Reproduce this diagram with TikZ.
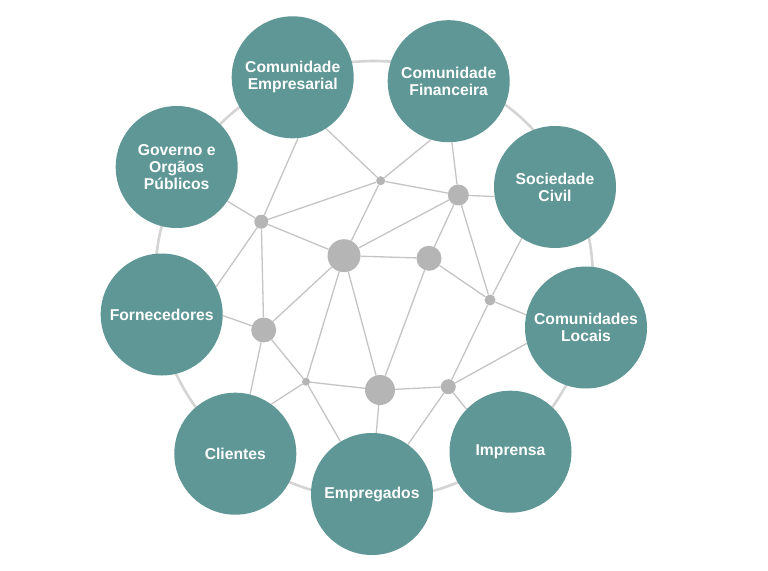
\documentclass[tikz,border=0pt]{standalone}
\usepackage{fontspec}
\setmainfont{Liberation Sans}
\pgfdeclarelayer{bg}
\pgfsetlayers{bg,main}
\definecolor{tealfill}{HTML}{5E9795}
\definecolor{hubgray}{HTML}{B5B5B5}
\definecolor{linegray}{HTML}{C4C4C4}
\definecolor{ringgray}{HTML}{D4D4D4}
\begin{document}
\begin{tikzpicture}[x=1pt,y=-1pt,
  big/.style={circle,fill=tealfill,text=white,minimum size=122pt,inner sep=0pt,align=center,
    font=\fontsize{15.7}{17}\selectfont\bfseries},
  hub/.style={circle,fill=hubgray,inner sep=0pt,minimum size=#1},
  link/.style={draw=linegray,line width=1.3pt},
  outerring/.style={draw=ringgray,line width=2.6pt}]
\useasboundingbox (0,0) rectangle (768,570);
% stakeholders
\node[big] (emp) at (292.7,77.3) {Comunidade\\Empresarial};
\node[big] (fin) at (448.7,81.2) {Comunidade\\Financeira};
\node[big] (soc) at (555,187) {Sociedade\\Civil};
\node[big] (loc) at (586,327.5) {Comunidades\\Locais};
\node[big] (imp) at (510.5,451.7) {Imprensa};
\node[big] (emg) at (372,494) {Empregados};
\node[big] (cli) at (235.3,453.7) {Clientes};
\node[big] (frn) at (161.7,314.5) {Fornecedores};
\node[big] (gov) at (176.7,167) {Governo e\\Orgãos\\Públicos};
% hubs
\node[hub=9pt]  (a) at (380.7,180.7) {};
\node[hub=21pt] (b) at (458.3,195) {};
\node[hub=14pt] (c) at (261.3,221.7) {};
\node[hub=33pt] (d) at (344,255.7) {};
\node[hub=25pt] (e) at (429,258.3) {};
\node[hub=11pt] (f) at (490,300) {};
\node[hub=25pt] (g) at (263.7,330) {};
\node[hub=8pt]  (h) at (306,381.7) {};
\node[hub=30pt] (i) at (380,390) {};
\node[hub=15pt] (j) at (448.3,386.7) {};
\coordinate (ringc) at (374,280);
\begin{pgfonlayer}{bg}
\draw[outerring] (ringc) circle[radius=219pt];
\draw[link] (a) -- (c);
\draw[link] (a) -- (b);
\draw[link] (a) -- (d);
\draw[link] (a) -- (emp.-57);
\draw[link] (a) -- (fin.-107);
\draw[link] (c) -- (emp.-85);
\draw[link] (c) -- (gov.-34);
\draw[link] (c) -- (d);
\draw[link] (c) -- (g);
\draw[link] (c) -- (frn.27);
\draw[link] (d) -- (b);
\draw[link] (d) -- (e);
\draw[link] (d) -- (g);
\draw[link] (d) -- (h);
\draw[link] (d) -- (i);
\draw[link] (b) -- (fin.-87);
\draw[link] (b) -- (soc.189);
\draw[link] (b) -- (e);
\draw[link] (b) -- (f);
\draw[link] (e) -- (f);
\draw[link] (e) -- (i);
\draw[link] (f) -- (soc.-123);
\draw[link] (f) -- (loc.168);
\draw[link] (f) -- (j);
\draw[link] (g) -- (frn.-1);
\draw[link] (g) -- (h);
\draw[link] (g) -- (cli.76);
\draw[link] (h) -- (i);
\draw[link] (h) -- (cli.54);
\draw[link] (h) -- (emg.121);
\draw[link] (i) -- (j);
\draw[link] (i) -- (emg.86);
\draw[link] (j) -- (loc.195);
\draw[link] (j) -- (imp.136);
\draw[link] (j) -- (emg.54);
\end{pgfonlayer}
\end{tikzpicture}
\end{document}
